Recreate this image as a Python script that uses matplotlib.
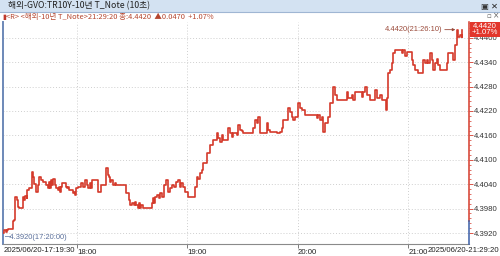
import matplotlib
matplotlib.use("Agg")
import matplotlib.pyplot as plt
from matplotlib.patches import Rectangle
from matplotlib.lines import Line2D
import matplotlib.transforms as mtransforms

# ---------------- data (minutes after 17:00, yield) ----------------
minutes = [20.0, 20.6, 21.4, 22.0, 22.5, 24.4, 25.0, 25.8, 26.3, 27.2, 28.0, 28.5, 30.1, 30.5,
           31.2, 31.8, 32.6, 33.1, 33.9, 34.8, 35.4, 36.1, 36.9, 37.7, 38.6, 39.5, 40.7, 41.5,
           42.6, 43.4, 44.3, 44.8, 45.3, 45.9, 46.4, 47.0, 47.8, 48.6, 49.7, 50.2, 50.8, 51.3,
           52.1, 52.9, 53.8, 54.6, 55.1, 55.9, 56.7, 57.6, 58.4, 58.9, 59.7, 60.5, 61.6, 62.4,
           63.3, 64.3, 65.2, 66.0, 66.8, 67.6, 68.1, 70.6, 71.4, 72.5, 73.3, 74.4, 75.7, 76.6,
           77.4, 77.9, 78.7, 79.5, 80.6, 81.4, 86.1, 86.6, 88.0, 88.8, 89.9, 91.0, 91.5, 92.3,
           93.1, 93.7, 94.2, 95.0, 95.8, 97.5, 98.6, 99.6, 100.5, 101.3, 101.8, 102.6, 103.4,
           104.3, 105.1, 105.9, 107.0, 108.6, 109.4, 110.5, 111.6, 112.7, 114.0, 114.8, 115.7,
           116.5, 117.6, 118.6, 120.3, 123.0, 124.1, 125.0, 125.7, 126.8, 127.7, 128.6, 130.4,
           132.2, 134.0, 135.9, 136.7, 137.7, 138.6, 139.4, 141.3, 142.2, 143.1, 144.0, 144.9,
           146.7, 147.6, 148.5, 149.4, 150.1, 152.2, 153.9, 155.6, 156.7, 157.6, 158.5, 159.4,
           162.1, 163.0, 163.9, 164.8, 167.5, 168.6, 170.2, 171.2, 172.0, 173.9, 174.7, 175.7,
           176.6, 177.5, 178.4, 180.2, 181.1, 182.0, 182.9, 183.8, 189.2, 190.2, 190.9, 192.0,
           192.9, 193.4, 194.7, 196.5, 197.4, 198.9, 200.1, 201.0, 205.5, 206.5, 207.3, 208.2,
           209.2, 210.0, 211.0, 213.7, 214.6, 215.5, 216.4, 217.3, 218.2, 219.1, 220.9, 221.8,
           222.7, 224.5, 225.5, 226.7, 227.6, 228.2, 229.0, 230.0, 230.9, 231.8, 232.7, 235.4,
           236.3, 237.2, 238.1, 239.0, 240.8, 241.7, 242.6, 243.5, 245.3, 247.2, 248.0, 249.0,
           249.9, 250.8, 251.7, 252.6, 253.5, 254.4, 255.3, 256.2, 257.1, 259.8, 260.8, 261.6,
           263.5, 264.3, 265.3, 266.2, 267.1, 268.0, 268.8, 269.3]
values = [4.3920, 4.3927, 4.3922, 4.3927, 4.3930, 4.3930, 4.3950, 4.3952, 4.4008, 4.4000,
          4.3985, 4.3981, 4.3981, 4.4009, 4.4001, 4.4012, 4.4005, 4.4026, 4.4030, 4.4030,
          4.4071, 4.4058, 4.4040, 4.4022, 4.4038, 4.4058, 4.4050, 4.4046, 4.4046, 4.4038,
          4.4030, 4.4046, 4.4030, 4.4050, 4.4038, 4.4054, 4.4038, 4.4030, 4.4026, 4.4034,
          4.4022, 4.4034, 4.4042, 4.4042, 4.4034, 4.4030, 4.4034, 4.4026, 4.4026, 4.4018,
          4.4022, 4.4014, 4.4030, 4.4034, 4.4034, 4.4042, 4.4034, 4.4050, 4.4038, 4.4030,
          4.4042, 4.4030, 4.4050, 4.4050, 4.4022, 4.4022, 4.4038, 4.4038, 4.4079, 4.4063,
          4.4058, 4.4046, 4.4050, 4.4038, 4.4042, 4.4038, 4.4038, 4.4018, 4.4001, 4.3989,
          4.3993, 4.3989, 4.3997, 4.3989, 4.3981, 4.3993, 4.3981, 4.3989, 4.3981, 4.3981,
          4.3981, 4.3981, 4.3993, 4.4005, 4.3993, 4.4009, 4.4013, 4.4005, 4.4018, 4.4009,
          4.4038, 4.4050, 4.4022, 4.4030, 4.4038, 4.4034, 4.4046, 4.4050, 4.4034, 4.4042,
          4.4034, 4.4022, 4.4009, 4.4009, 4.4034, 4.4058, 4.4054, 4.4067, 4.4075, 4.4092,
          4.4117, 4.4136, 4.4149, 4.4165, 4.4153, 4.4145, 4.4161, 4.4149, 4.4149, 4.4177,
          4.4165, 4.4157, 4.4165, 4.4161, 4.4186, 4.4173, 4.4170, 4.4166, 4.4166, 4.4165,
          4.4177, 4.4198, 4.4190, 4.4206, 4.4166, 4.4166, 4.4190, 4.4173, 4.4169, 4.4169,
          4.4165, 4.4169, 4.4177, 4.4198, 4.4198, 4.4227, 4.4218, 4.4206, 4.4198, 4.4206,
          4.4239, 4.4227, 4.4222, 4.4222, 4.4210, 4.4210, 4.4202, 4.4210, 4.4198, 4.4206,
          4.4169, 4.4190, 4.4206, 4.4239, 4.4280, 4.4259, 4.4247, 4.4247, 4.4267, 4.4251,
          4.4251, 4.4259, 4.4247, 4.4267, 4.4267, 4.4255, 4.4267, 4.4280, 4.4259, 4.4259,
          4.4247, 4.4247, 4.4271, 4.4251, 4.4259, 4.4247, 4.4247, 4.4222, 4.4251, 4.4313,
          4.4321, 4.4337, 4.4362, 4.4370, 4.4370, 4.4362, 4.4370, 4.4354, 4.4366, 4.4366,
          4.4345, 4.4333, 4.4321, 4.4313, 4.4313, 4.4345, 4.4337, 4.4345, 4.4337, 4.4362,
          4.4345, 4.4321, 4.4337, 4.4349, 4.4333, 4.4321, 4.4321, 4.4337, 4.4362, 4.4362,
          4.4345, 4.4382, 4.4420, 4.4403, 4.4407, 4.4403, 4.4420]

prev_close = 4.3950
y_ticks = [4.3920, 4.3980, 4.4040, 4.4100, 4.4160, 4.4220, 4.4280, 4.4340, 4.4400]
x_hour_ticks = [60, 120, 180, 240]
x_hour_labels = ["18:00", "19:00", "20:00", "21:00"]
start_label = "2025/06/20-17:19:30"
end_label = "2025/06/20-21:29:20"
title_text = "해외-GVO:TR10Y-10년 T_Note (10초)"
info_text = "<R> <해외-10년 T_Note>21:29:20 종:4.4420  ▲0.0470  +1.07%"
last_price = "4.4420"
last_change = "+1.07%"
high_label = "4.4420(21:26:10)"
low_label = "4.3920(17:20:00)"
high_t, high_v = 266.2, 4.4420
low_t, low_v = 20.0, 4.3920

# ---------------- figure ----------------
W, H = 500, 256
fig = plt.figure(figsize=(W / 100, H / 100), dpi=100)
fig.patch.set_facecolor("white")

def fx(px):
    return px / W

def fy(py):
    return 1 - py / H

CJK = ["Noto Sans CJK KR", "DejaVu Sans"]
NARROW = ["Liberation Sans Narrow", "Liberation Sans", "DejaVu Sans"]

# title bar
fig.patches.append(Rectangle((0, fy(12)), 1, 12 / H, transform=fig.transFigure,
                             facecolor="#d3e2f2", edgecolor="none", zorder=0))
fig.add_artist(Line2D([0, 1], [fy(12), fy(12)], transform=fig.transFigure,
                      color="#9fb6d3", lw=0.8))
fig.text(fx(8), fy(6), title_text, family=CJK, fontsize=6.3, color="#222222",
         va="center", ha="left")
fig.text(fx(484), fy(6), "▣", family=["DejaVu Sans"], fontsize=6, color="#333333",
         va="center", ha="center")
fig.text(fx(494), fy(6), "✕", family=["DejaVu Sans"], fontsize=6, color="#222222",
         va="center", ha="center", fontweight="bold")

# info line
fig.text(fx(2), fy(17.5), "▮", family=["DejaVu Sans"], fontsize=5, color="#c0392b",
         va="center", ha="left")
fig.text(fx(6), fy(17.5), info_text, family=CJK, fontsize=5.4, color="#b5462f",
         va="center", ha="left")
fig.text(fx(489), fy(15.5), "▫", family=["DejaVu Sans"], fontsize=5, color="#666666",
         va="center", ha="center")
fig.text(fx(496), fy(15.5), "×", family=["DejaVu Sans"], fontsize=5.5, color="#666666",
         va="center", ha="center")

# axes
top_px, bot_px, left_px, right_px = 22, 244, 3, 469
ax = fig.add_axes([fx(left_px), fy(bot_px), fx(right_px) - fx(left_px),
                   (bot_px - top_px) / H])
ax.set_facecolor("white")
ax.plot(minutes, values, drawstyle="steps-post", color="#d43a2b", lw=1.2, zorder=3)

ymin, ymax = 4.38930, 4.44388
xmin, xmax = 19.82, 272.86
ax.set_xlim(xmin, xmax)
ax.set_ylim(ymin, ymax)

# grid
for yt in y_ticks:
    ax.axhline(yt, color="#cfcfcf", lw=0.7, ls=(0, (1, 2)), zorder=1)
for xt in x_hour_ticks:
    ax.axvline(xt, color="#cfcfcf", lw=0.7, ls=(0, (1, 2)), zorder=1)

# spines
for s in ["top", "right"]:
    ax.spines[s].set_visible(False)
ax.spines["left"].set_color("#6d88b8")
ax.spines["left"].set_linewidth(1.4)
ax.spines["bottom"].set_color("#8a8a8a")
ax.spines["bottom"].set_linewidth(0.8)

frac_prev = (prev_close - ymin) / (ymax - ymin)
ax.axvline(xmax, ymin=frac_prev, ymax=1, color="#d43a2b", lw=1.1, clip_on=False, zorder=4)
ax.axvline(xmax, ymin=0, ymax=frac_prev, color="#3a5fa8", lw=1.1, clip_on=False, zorder=4)

# y ticks right
ax.yaxis.tick_right()
ax.set_yticks(y_ticks)
ax.set_yticklabels([f"{v:.4f}" for v in y_ticks], family=NARROW, fontsize=5.6,
                   color="#333333")
ax.tick_params(axis="y", which="major", length=3, width=0.6, color="#d43a2b", pad=0.5)
minor_ticks = []
v = 4.3920
while v < ymax:
    minor_ticks.append(round(v, 4))
    v += 0.0012
ax.set_yticks(minor_ticks, minor=True)
ax.tick_params(axis="y", which="minor", length=1.5, width=0.5, color="#d43a2b")

# x ticks
ax.set_xticks(x_hour_ticks)
ax.set_xticklabels(x_hour_labels, family=NARROW, fontsize=5.6, color="#222222", ha="left")
ax.tick_params(axis="x", length=3, width=0.6, color="#666666", pad=0.5)
trans = mtransforms.blended_transform_factory(ax.transData, fig.transFigure)
ax.text(xmin + 0.4, fy(250), start_label, transform=trans, family=NARROW, fontsize=5.6,
        color="#222222", ha="left", va="center", clip_on=False)
fig.text(fx(499.5), fy(250), end_label, family=NARROW, fontsize=5.6, color="#222222",
         ha="right", va="center")

# high / low annotations
ax.annotate(high_label, xy=(high_t, high_v), xytext=(high_t - 8, high_v),
            textcoords="data", ha="right", va="center", family=NARROW, fontsize=5.4,
            color="#9a4a3a",
            arrowprops=dict(arrowstyle="-|>", color="#9a4a3a", lw=0.6,
                            mutation_scale=4, shrinkA=0, shrinkB=1))
ax.text(low_t + 0.5, low_v - 0.0010, "─" + low_label, family=NARROW, fontsize=5.4,
        color="#5a6f9a", ha="left", va="center")

# last price box
fig.patches.append(Rectangle((fx(470), fy(37)), fx(30), 15 / H, transform=fig.transFigure,
                             facecolor="#e2362b", edgecolor="none", zorder=5))
fig.text(fx(485), fy(26), last_price, family=NARROW, fontsize=5.6, color="white",
         ha="center", va="center", zorder=6)
fig.text(fx(485), fy(33), last_change, family=NARROW, fontsize=5.6, color="white",
         ha="center", va="center", zorder=6)

fig.savefig("out.png", dpi=100)
